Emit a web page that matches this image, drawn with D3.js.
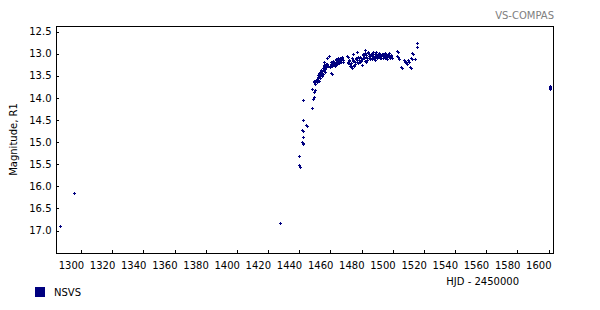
<!DOCTYPE html>
<html>
<head>
<meta charset="utf-8">
<script src="https://cdn.jsdelivr.net/npm/d3@7"></script>
<style>
  body { margin: 0; background: #fff; }
  text { font-family: "DejaVu Sans", Verdana, sans-serif; font-size: 10px; }
</style>
</head>
<body>
<div id="chart"></div>
<script>
// ------- data -------
const hjd = [
  1286.9, 1296.0, 1427.9,
  1440.3, 1441.0, 1440.3, 1441.9, 1442.6, 1442.9, 1442.9, 1441.9, 1442.6, 1444.6, 1445.2,
  1442.9, 1448.6, 1442.9, 1449.3, 1449.9, 1449.9, 1448.6, 1450.2,
  1449.5, 1450.1, 1450.8, 1451.5, 1452.2, 1452.9, 1453.5, 1454.8,
  1450.4, 1451.1, 1451.8, 1452.0, 1453.0, 1453.7, 1454.2, 1454.9,
  1452.5, 1453.1, 1453.8, 1454.4, 1455.0, 1455.7, 1456.3, 1456.9, 1457.6, 1458.2, 1455.3, 1456.6,
  1455.5, 1456.0, 1456.5, 1457.2, 1457.8, 1458.6,
  1456.1, 1457.9, 1459.3, 1460.6, 1461.2,
  1460.3, 1461.0, 1461.6, 1462.3, 1462.9, 1463.6, 1464.2, 1464.8, 1465.5, 1466.1, 1466.8, 1467.4, 1468.1, 1463.0, 1465.0,
  1459.8, 1460.8, 1461.4, 1462.0, 1462.6, 1463.3, 1463.9, 1464.5, 1465.2, 1465.8, 1466.4, 1467.1, 1467.7, 1468.4,
  1467.5, 1470.7, 1471.3,
  1471.8, 1472.4, 1473.1, 1473.7, 1474.4, 1475.0, 1475.7, 1476.3, 1476.9, 1477.6, 1478.2, 1478.9, 1479.5, 1480.1, 1480.8, 1474.0,
  1471.5, 1472.1, 1472.8, 1473.4, 1474.7, 1475.3, 1476.0, 1476.6, 1477.3, 1477.9, 1478.5, 1479.2, 1479.8, 1480.4,
  1474.9, 1477.4,
  1481.0, 1481.7, 1482.3, 1483.0, 1483.6, 1484.3, 1484.9, 1485.5, 1482.4, 1483.2,
  1481.3, 1482.0, 1482.7, 1483.3, 1484.0, 1484.6, 1485.2, 1485.9,
  1486.2, 1486.8, 1487.5, 1488.1, 1488.8, 1489.4, 1490.0, 1490.7, 1491.3, 1492.0, 1492.6, 1493.2,
  1493.9, 1494.5, 1495.2, 1495.8, 1496.4, 1497.1, 1497.7, 1498.4, 1499.0, 1499.6, 1487.0, 1489.0,
  1486.5, 1487.2, 1487.8, 1488.5, 1489.1, 1489.7, 1490.4, 1491.0, 1491.6, 1492.3, 1492.9,
  1493.5, 1494.2, 1494.8, 1495.5, 1496.1, 1496.7, 1497.4, 1498.0, 1498.7, 1499.3,
  1502.8, 1503.4, 1503.2, 1503.8, 1504.3, 1505.5, 1506.1, 1507.5, 1508.1, 1508.7, 1509.3,
  1510.2, 1510.8, 1511.7, 1512.3, 1511.9, 1512.5, 1512.6, 1513.2, 1514.7, 1516.0, 1516.0,
  1601.1, 1601.1, 1601.1, 1601.1
];
const mag = [
  16.92, 16.17, 16.85,
  15.54, 15.57, 15.33, 15.00, 15.03, 15.05, 14.90, 14.73, 14.76, 14.62, 14.65,
  14.51, 14.23, 14.07, 14.03, 13.99, 13.88, 13.82, 13.84,
  13.63, 13.66, 13.60, 13.58, 13.55, 13.62, 13.57, 13.52,
  13.69, 13.64, 13.61, 13.66, 13.53, 13.49, 13.46, 13.44,
  13.50, 13.45, 13.42, 13.38, 13.40, 13.33, 13.30, 13.35, 13.28, 13.25, 13.47, 13.43,
  13.37, 13.39, 13.27, 13.31, 13.24, 13.29,
  13.21, 13.10, 13.06, 13.44, 13.47,
  13.28, 13.25, 13.22, 13.27, 13.19, 13.24, 13.16, 13.21, 13.14, 13.18, 13.13, 13.20, 13.15, 13.30, 13.12,
  13.31, 13.20, 13.30, 13.17, 13.22, 13.27, 13.13, 13.25, 13.18, 13.23, 13.11, 13.16, 13.12, 13.19,
  13.08, 13.06, 13.09,
  13.20, 13.15, 13.25, 13.28, 13.12, 13.18, 13.30, 13.24, 13.10, 13.16, 13.22, 13.12, 13.08, 13.18, 13.26, 13.33,
  13.23, 13.18, 13.28, 13.22, 13.15, 13.27, 13.20, 13.13, 13.19, 13.09, 13.15, 13.21, 13.11, 13.14,
  13.01, 12.98,
  13.05, 13.12, 13.00, 13.08, 13.15, 12.98, 13.03, 13.10, 12.92, 13.20,
  13.02, 13.09, 13.17, 13.04, 13.12, 13.00, 13.07, 13.13,
  13.05, 13.00, 12.97, 13.08, 13.03, 12.98, 13.10, 13.05, 13.00, 13.12, 13.07, 13.02,
  13.10, 13.04, 12.99, 13.08, 13.13, 13.05, 13.00, 13.09, 13.04, 13.12, 13.14, 13.15,
  13.02, 13.07, 13.01, 13.11, 13.06, 13.01, 13.08, 13.03, 13.09, 13.04, 13.10,
  13.05, 13.01, 13.07, 13.11, 13.03, 13.08, 13.02, 13.06, 13.11, 13.07,
  12.95, 12.98, 13.06, 13.09, 13.14, 13.31, 13.34, 13.16, 13.19, 13.21, 13.24,
  13.16, 13.19, 13.31, 13.34, 13.10, 13.13, 12.99, 13.02, 13.14, 12.78, 12.87,
  13.74, 13.77, 13.79, 13.81
];
const xTicks = d3.range(1300, 1601, 20);
const yTicks = d3.range(12.5, 17.01, 0.5);
const seriesName = "NSVS";

// ------- layout -------
const W = 600, H = 310;
const margin = { top: 26, right: 47, bottom: 57, left: 56 };
const width = W - margin.left - margin.right;
const height = H - margin.top - margin.bottom;
const navy = "#000080";

const svg = d3.select("#chart").append("svg")
  .attr("width", W)
  .attr("height", H)
  .attr("shape-rendering", "crispEdges");

const g = svg.append("g")
  .attr("transform", `translate(${margin.left},${margin.top})`);

// ------- scales -------
const x = d3.scaleLinear().domain([1284.2, 1603.2]).range([0, width]);
const y = d3.scaleLinear().domain([12.386, 17.52]).range([0, height]);

// ------- frame -------
g.append("rect")
  .attr("x", 0.5).attr("y", 0.5)
  .attr("width", width).attr("height", height)
  .attr("fill", "none").attr("stroke", "#000");

// ------- axes -------
const xAxis = d3.axisBottom(x).tickValues(xTicks).tickSize(-4).tickPadding(8).tickFormat(d3.format("d"));
const gx = g.append("g")
  .attr("transform", `translate(0.5,${height + 0.5})`)
  .call(xAxis);
gx.select(".domain").remove();
gx.selectAll("line").attr("stroke", "#000");
gx.selectAll("text")
  .attr("fill", "#000")
  .attr("text-anchor", "end")
  .attr("dx", "2.5");

const yAxis = d3.axisLeft(y).tickValues(yTicks).tickSize(-2).tickPadding(5).tickFormat(d3.format(".1f"));
const gy = g.append("g")
  .attr("transform", "translate(0.5,0.5)")
  .call(yAxis);
gy.select(".domain").remove();
gy.selectAll("line").attr("stroke", "#000");
gy.selectAll("text").attr("fill", "#000");

// ------- points: small crosses -------
const pts = hjd.map((d, i) => ({ x: Math.round(x(d)), y: Math.round(y(mag[i])) }));
const marks = g.append("g").attr("fill", navy);
marks.selectAll("rect.h").data(pts).join("rect")
  .attr("class", "h")
  .attr("x", d => d.x - 1).attr("y", d => d.y)
  .attr("width", 3).attr("height", 1);
marks.selectAll("rect.v").data(pts).join("rect")
  .attr("class", "v")
  .attr("x", d => d.x).attr("y", d => d.y - 1)
  .attr("width", 1).attr("height", 3);

// ------- labels -------
svg.append("text")
  .attr("transform", `translate(17,${margin.top + height / 2}) rotate(-90)`)
  .attr("text-anchor", "middle")
  .text("Magnitude, R1");

svg.append("text")
  .attr("x", 519).attr("y", 285)
  .attr("text-anchor", "end")
  .text("HJD - 2450000");

svg.append("text")
  .attr("x", 554).attr("y", 19)
  .attr("text-anchor", "end")
  .attr("fill", "#808080")
  .text("VS-COMPAS");

// ------- legend -------
svg.append("rect")
  .attr("x", 35).attr("y", 287)
  .attr("width", 10).attr("height", 10)
  .attr("fill", navy);
svg.append("text")
  .attr("x", 54).attr("y", 296)
  .text(seriesName);
</script>
</body>
</html>
